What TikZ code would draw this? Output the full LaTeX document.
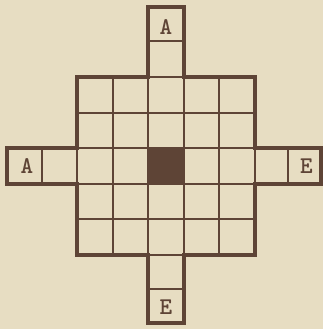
\documentclass[tikz,border=0pt]{standalone}
\usepackage{tikz}
\usetikzlibrary{positioning}
\definecolor{paper}{RGB}{231,221,194}
\definecolor{ink}{RGB}{94,68,54}

\begin{document}
\begin{tikzpicture}[x=1pt,y=-1pt,
  gridline/.style={draw=ink,line width=2pt},
  frame/.style={draw=ink,line width=4pt,line join=miter},
  letter/.style={font=\ttfamily\bfseries\fontsize{24}{24}\selectfont,text=ink,inner sep=0pt}]
\fill[paper] (0,0) rectangle (323,329);
\useasboundingbox (0,0) rectangle (323,329);
% centre square
\fill[ink] (148,148) rectangle (183.5,183.5);
% inner lines of the 5x5 board
\foreach \k in {112.5,148,183.5,219} {
  \draw[gridline] (\k,77) -- (\k,254.5);
  \draw[gridline] (77,\k) -- (254.5,\k);
}
% where the arms meet the board
\draw[gridline] (148,77) -- (183.5,77);
\draw[gridline] (148,254.5) -- (183.5,254.5);
\draw[gridline] (77,148) -- (77,183.5);
\draw[gridline] (254.5,148) -- (254.5,183.5);
% arm separators
\draw[gridline] (148,41.5) -- (183.5,41.5);
\draw[gridline] (148,288.5) -- (183.5,288.5);
\draw[gridline] (41.5,148) -- (41.5,183.5);
\draw[gridline] (288,148) -- (288,183.5);
% outline of the cross
\draw[frame] (77,77) -- (148,77) -- (148,7) -- (183.5,7) -- (183.5,77)
  -- (254.5,77) -- (254.5,148) -- (321,148) -- (321,183.5) -- (254.5,183.5)
  -- (254.5,254.5) -- (183.5,254.5) -- (183.5,323) -- (148,323) -- (148,254.5)
  -- (77,254.5) -- (77,183.5) -- (7,183.5) -- (7,148) -- (77,148) -- cycle;
% end letters
\node[letter] (topA) at (166,27) {A};
\node[letter] (leftA) at (27,166) {A};
\node[letter] (rightE) at (306.5,166) {E};
\node[letter] (bottomE) at (166,307) {E};
\end{tikzpicture}
\end{document}
